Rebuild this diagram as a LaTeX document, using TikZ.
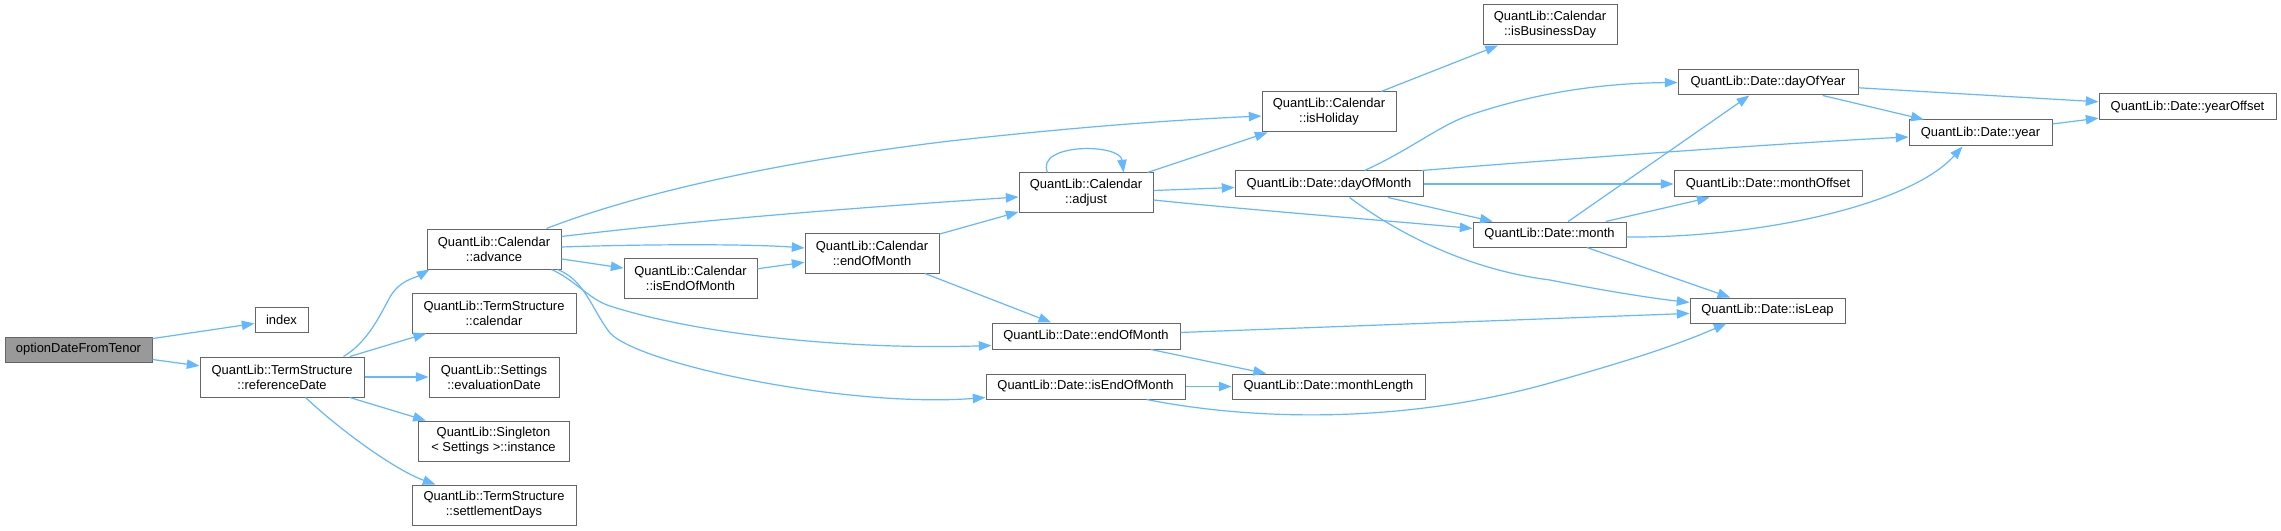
\documentclass[tikz,border=0pt]{standalone}
\usepackage{fontspec}
\setmainfont{Liberation Sans}
\usetikzlibrary{arrows.meta,calc}
\definecolor{edgeblue}{HTML}{63B8FF}
\definecolor{nodeborder}{HTML}{666666}
\definecolor{rootfill}{HTML}{999999}
% #1 style, #2 name, #3 x1, #4 y1, #5 x2, #6 y2, #7 text
\newcommand{\gnode}[7]{\node[#1, minimum width={(#5-#3)*0.75pt}, minimum height={(#6-#4)*0.75pt}] (#2) at ({(#3+#5)/2},{(#4+#6)/2}) {#7};}
\begin{document}
\begin{tikzpicture}[x=0.75pt,y=-0.75pt,
  box/.style={draw=nodeborder, line width=0.75pt, fill=white, inner sep=0pt,
    font=\fontsize{9.7pt}{11.25pt}\selectfont},
  box2/.style={box, align=center},
  rootbox/.style={box, fill=rootfill},
  call/.style={draw=edgeblue, line width=0.9pt, -{Triangle[length=9.5pt,width=7pt]}}]
\useasboundingbox[fill=white] (0,0) rectangle (2281,531);
% nodes
\gnode{rootbox}{root}{5}{337}{152}{362}{optionDateFromTenor}
\gnode{box}{index}{255}{307}{308}{332}{index}
\gnode{box2}{refDate}{200}{357}{364}{397}{QuantLib::TermStructure\\::referenceDate}
\gnode{box2}{advance}{427}{229}{561}{269}{QuantLib::Calendar\\::advance}
\gnode{box2}{tscal}{412}{293}{576}{333}{QuantLib::TermStructure\\::calendar}
\gnode{box2}{evald}{429}{357}{559}{397}{QuantLib::Settings\\::evaluationDate}
\gnode{box2}{single}{418}{421}{569}{461}{QuantLib::Singleton\\< Settings >::instance}
\gnode{box2}{settle}{412}{485}{576}{525}{QuantLib::TermStructure\\::settlementDays}
\gnode{box2}{cisEOM}{624}{258}{757}{298}{QuantLib::Calendar\\::isEndOfMonth}
\gnode{box2}{cEOM}{805}{233}{939}{273}{QuantLib::Calendar\\::endOfMonth}
\gnode{box2}{adjust}{1019}{173}{1153}{213}{QuantLib::Calendar\\::adjust}
\gnode{box2}{isHoliday}{1262}{92}{1396}{132}{QuantLib::Calendar\\::isHoliday}
\gnode{box2}{isBD}{1483}{5}{1617}{45}{QuantLib::Calendar\\::isBusinessDay}
\gnode{box}{dayOfMonth}{1235}{171}{1423}{197}{QuantLib::Date::dayOfMonth}
\gnode{box}{month}{1473}{222}{1626}{247}{QuantLib::Date::month}
\gnode{box}{dEOM}{992}{323}{1180}{349}{QuantLib::Date::endOfMonth}
\gnode{box}{dIsEOM}{986}{374}{1185}{399}{QuantLib::Date::isEndOfMonth}
\gnode{box}{mLen}{1232}{374}{1425}{399}{QuantLib::Date::monthLength}
\gnode{box}{dayOfYear}{1678}{70}{1858}{95}{QuantLib::Date::dayOfYear}
\gnode{box}{year}{1909}{120}{2052}{146}{QuantLib::Date::year}
\gnode{box}{yearOffset}{2099}{94}{2276}{120}{QuantLib::Date::yearOffset}
\gnode{box}{monthOffset}{1674}{171}{1862}{197}{QuantLib::Date::monthOffset}
\gnode{box}{isLeap}{1690}{298}{1845}{323}{QuantLib::Date::isLeap}
% edges
\draw[call] (root) -- (index);
\draw[call] (root) -- (refDate);
\draw[call] ($(refDate.north west)+(144,0)$) .. controls (368,342) and (380,315) .. (390,297) .. controls (400,280) and (415,278) .. ($(advance.south west)+(3,0)$);
\draw[call] (refDate) -- (tscal);
\draw[call] (refDate) -- (evald);
\draw[call] (refDate) -- (single);
\draw[call] ($(refDate.south west)+(106,0)$) .. controls (340,430) and (395,470) .. ($(settle.north west)+(24,0)$);
\draw[call] ($(advance.north west)+(120,0)$) .. controls (620,200) and (750,165) .. (950,141) .. controls (1050,130) and (1150,121) .. ($(isHoliday.west)+(0,4)$);
\draw[call] ($(advance.north east)+(0,8)$) .. controls (700,220) and (850,208) .. ($(adjust.west)+(0,4)$);
\draw[call] ($(advance.east)+(0,-2)$) .. controls (650,244) and (750,244) .. ($(cEOM.west)+(0,-5)$);
\draw[call] (advance) -- (cisEOM);
\draw[call] ($(advance.south east)+(-10,0)$) .. controls (575,280) and (590,300) .. (610,306) .. controls (700,335) and (850,350) .. ($(dEOM.south west)+(0,-4)$);
\draw[call] ($(advance.south east)+(-4,0)$) .. controls (585,280) and (592,310) .. (610,333) .. controls (640,365) and (850,408) .. ($(dIsEOM.south west)+(0,-2)$);
\draw[call] (cisEOM) -- (cEOM);
\draw[call] (cEOM) -- (adjust);
\draw[call] (cEOM) -- (dEOM);
\draw[call] ($(adjust.north west)+(29,0)$) .. controls (1035,143) and (1120,143) .. ($(adjust.north west)+(105,0)$);
\draw[call] (adjust) -- (isHoliday);
\draw[call] (adjust) -- (dayOfMonth);
\draw[call] ($(adjust.east)+(0,7)$) .. controls (1250,210) and (1380,220) .. ($(month.west)+(0,-6)$);
\draw[call] (isHoliday) -- (isBD);
\draw[call] ($(dayOfMonth.north west)+(130,0)$) .. controls (1410,150) and (1440,125) .. (1470,115) .. controls (1550,88) and (1620,83) .. (dayOfYear.west);
\draw[call] ($(dayOfMonth.north east)+(-2,0)$) .. controls (1550,160) and (1800,142) .. ($(year.west)+(0,4)$);
\draw[call] (dayOfMonth) -- (monthOffset);
\draw[call] (dayOfMonth) -- (month);
\draw[call] ($(dayOfMonth.south west)+(115,0)$) .. controls (1400,235) and (1470,270) .. (1550,280) .. controls (1600,290) and (1650,298) .. ($(isLeap.north west)+(0,5)$);
\draw[call] (dayOfYear) -- (yearOffset);
\draw[call] (dayOfYear) -- (year);
\draw[call] (year) -- (yearOffset);
\draw[call] (month) -- (dayOfYear);
\draw[call] (month) -- (monthOffset);
\draw[call] ($(month.east)+(0,2.5)$) .. controls (1760,238) and (1910,205) .. ($(year.south west)+(54,0)$);
\draw[call] (month) -- (isLeap);
\draw[call] (dEOM) -- (isLeap);
\draw[call] (dEOM) -- (mLen);
\draw[call] (dIsEOM) -- (mLen);
\draw[call] ($(dIsEOM.south west)+(161,0)$) .. controls (1250,420) and (1400,425) .. (1550,383) .. controls (1620,363) and (1670,348) .. ($(isLeap.south west)+(37,0)$);
\end{tikzpicture}
\end{document}
